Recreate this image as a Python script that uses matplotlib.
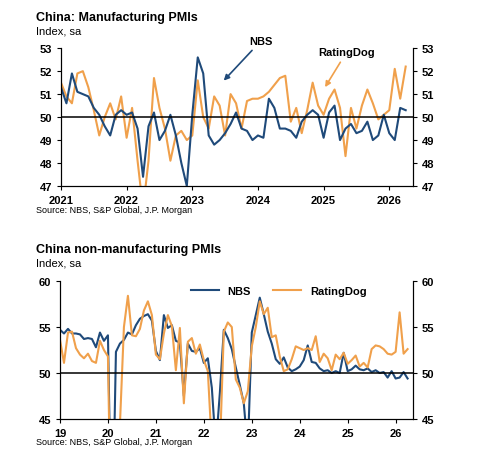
import numpy as np
import matplotlib.pyplot as plt

# manufacturing, monthly Jan 2021 - Apr 2026
mfg_nbs = [51.3,50.6,51.9,51.1,51.0,50.9,50.4,50.1,49.6,49.2,50.1,50.3,
           50.1,50.2,49.5,47.4,49.6,50.2,49.0,49.4,50.1,49.2,48.0,47.0,
           50.1,52.6,51.9,49.2,48.8,49.0,49.3,49.7,50.2,49.5,49.4,49.0,
           49.2,49.1,50.8,50.4,49.5,49.5,49.4,49.1,49.8,50.1,50.3,50.1,
           49.1,50.2,50.5,49.0,49.5,49.7,49.3,49.4,49.8,49.0,49.2,50.1,
           49.3,49.0,50.4,50.3]
mfg_rd = [51.5,50.9,50.6,51.9,52.0,51.3,50.3,49.2,50.0,50.6,49.9,50.9,
          49.1,50.4,48.1,46.0,48.1,51.7,50.4,49.5,48.1,49.2,49.4,49.0,
          49.2,51.6,50.0,49.5,50.9,50.5,49.2,51.0,50.6,49.5,50.7,50.8,
          50.8,50.9,51.1,51.4,51.7,51.8,49.8,50.4,49.3,50.3,51.5,50.5,
          50.1,50.8,51.2,50.4,48.3,50.4,49.5,50.5,51.2,50.6,49.9,50.1,
          50.3,52.1,50.8,52.2]

# non-manufacturing, monthly Jan 2019 - Apr 2026
nm_nbs = [54.7,54.3,54.8,54.3,54.3,54.2,53.7,53.8,53.7,52.8,54.4,53.5,
          54.1,29.6,52.3,53.2,53.6,54.4,54.2,55.2,55.9,56.2,56.4,55.7,
          52.4,51.4,56.3,54.9,55.2,53.5,53.3,47.5,53.2,52.4,52.3,52.7,
          51.1,51.6,48.4,41.9,47.8,54.7,53.8,52.6,50.6,48.7,46.7,41.6,
          54.4,56.3,58.2,56.4,54.5,53.2,51.5,51.0,51.7,50.6,50.2,50.4,
          50.7,51.4,53.0,51.2,51.1,50.5,50.2,50.3,50.0,50.2,50.0,52.2,
          50.2,50.4,50.8,50.4,50.3,50.5,50.1,50.3,50.0,50.1,49.5,50.2,
          49.4,49.5,50.1,49.4]
nm_rd = [53.6,51.1,54.4,54.5,52.7,52.0,51.6,52.1,51.3,51.1,53.5,52.5,
         51.8,26.5,43.0,44.4,55.0,58.4,54.1,54.0,54.8,56.8,57.8,56.3,
         52.0,51.5,54.3,56.3,55.1,50.3,54.9,46.7,53.4,53.8,52.1,53.1,
         51.4,50.2,42.0,36.2,41.4,54.5,55.5,55.0,49.3,48.4,46.7,48.0,
         52.9,55.0,57.8,56.4,57.1,53.9,54.1,51.8,50.2,50.4,51.5,52.9,
         52.7,52.5,52.7,52.5,54.0,51.2,52.1,51.6,50.3,52.0,51.5,52.2,
         51.0,51.4,51.9,50.7,51.1,50.6,52.6,53.0,52.9,52.6,52.1,52.0,
         52.3,56.6,52.1,52.6]

NAVY = '#1f4a7a'
ORANGE = '#f0a04b'

plt.rcParams['font.family'] = ['Liberation Sans', 'DejaVu Sans']
fig = plt.figure(figsize=(4.8, 4.64), dpi=100)

def style(ax, ymin, ymax, yt, xt, xl):
    ax.set_ylim(ymin, ymax)
    ax.set_yticks(yt)
    ax.set_xticks(xt)
    ax.set_xticklabels(xl, fontsize=8, fontweight='bold')
    ax.tick_params(axis='y', labelsize=8, length=3, direction='out')
    for lab in ax.get_yticklabels():
        lab.set_fontweight('bold')
    ax.tick_params(axis='x', length=3)
    ax.spines['top'].set_visible(False)
    ax2 = ax.twinx()
    ax2.set_ylim(ymin, ymax)
    ax2.set_yticks(yt)
    ax2.tick_params(axis='y', labelsize=8, length=3)
    for lab in ax2.get_yticklabels():
        lab.set_fontweight('bold')
    ax2.spines['top'].set_visible(False)
    ax.axhline(50, color='black', lw=1.1, zorder=3)

# top chart
ax = fig.add_axes([0.127, 0.597, 0.733, 0.297])
t1 = 2021 + np.arange(len(mfg_nbs)) / 12
ax.plot(t1, mfg_rd, color=ORANGE, lw=1.5)
ax.plot(t1, mfg_nbs, color=NAVY, lw=1.5)
ax.set_xlim(2021, 2026 + 4.3 / 12)
style(ax, 47, 53, range(47, 54), range(2021, 2027), [str(y) for y in range(2021, 2027)])
ax.annotate('NBS', xy=(2023.45, 51.5), xytext=(2024.05, 53.2), fontsize=8, fontweight='bold',
            ha='center', arrowprops=dict(arrowstyle='-|>', color=NAVY, lw=1.2))
ax.annotate('RatingDog', xy=(2025.0, 51.2), xytext=(2025.35, 52.7), fontsize=8, fontweight='bold',
            ha='center', arrowprops=dict(arrowstyle='-|>', color=ORANGE, lw=1.2))
fig.text(0.075, 0.955, 'China: Manufacturing PMIs', fontsize=9, fontweight='bold')
fig.text(0.075, 0.925, 'Index, sa', fontsize=8)
fig.text(0.075, 0.54, 'Source: NBS, S&P Global, J.P. Morgan', fontsize=6.5)

# bottom chart
bx = fig.add_axes([0.125, 0.095, 0.735, 0.297])
t2 = 2019 + np.arange(len(nm_nbs)) / 12
bx.plot(t2, nm_nbs, color=NAVY, lw=1.5, label='NBS')
bx.plot(t2, nm_rd, color=ORANGE, lw=1.5, label='RatingDog')
bx.set_xlim(2019, 2026 + 4.3 / 12)
style(bx, 45, 60, [45, 50, 55, 60], range(2019, 2027), [str(y)[2:] for y in range(2019, 2027)])
bx.legend(loc='upper center', bbox_to_anchor=(0.62, 1.04), ncol=2, frameon=False,
          prop={'size': 8, 'weight': 'bold'}, handlelength=2.5, columnspacing=2)
fig.text(0.075, 0.455, 'China non-manufacturing PMIs', fontsize=9, fontweight='bold')
fig.text(0.075, 0.425, 'Index, sa', fontsize=8)
fig.text(0.075, 0.04, 'Source: NBS, S&P Global, J.P. Morgan', fontsize=6.5)

fig.savefig('out.png', dpi=100)
